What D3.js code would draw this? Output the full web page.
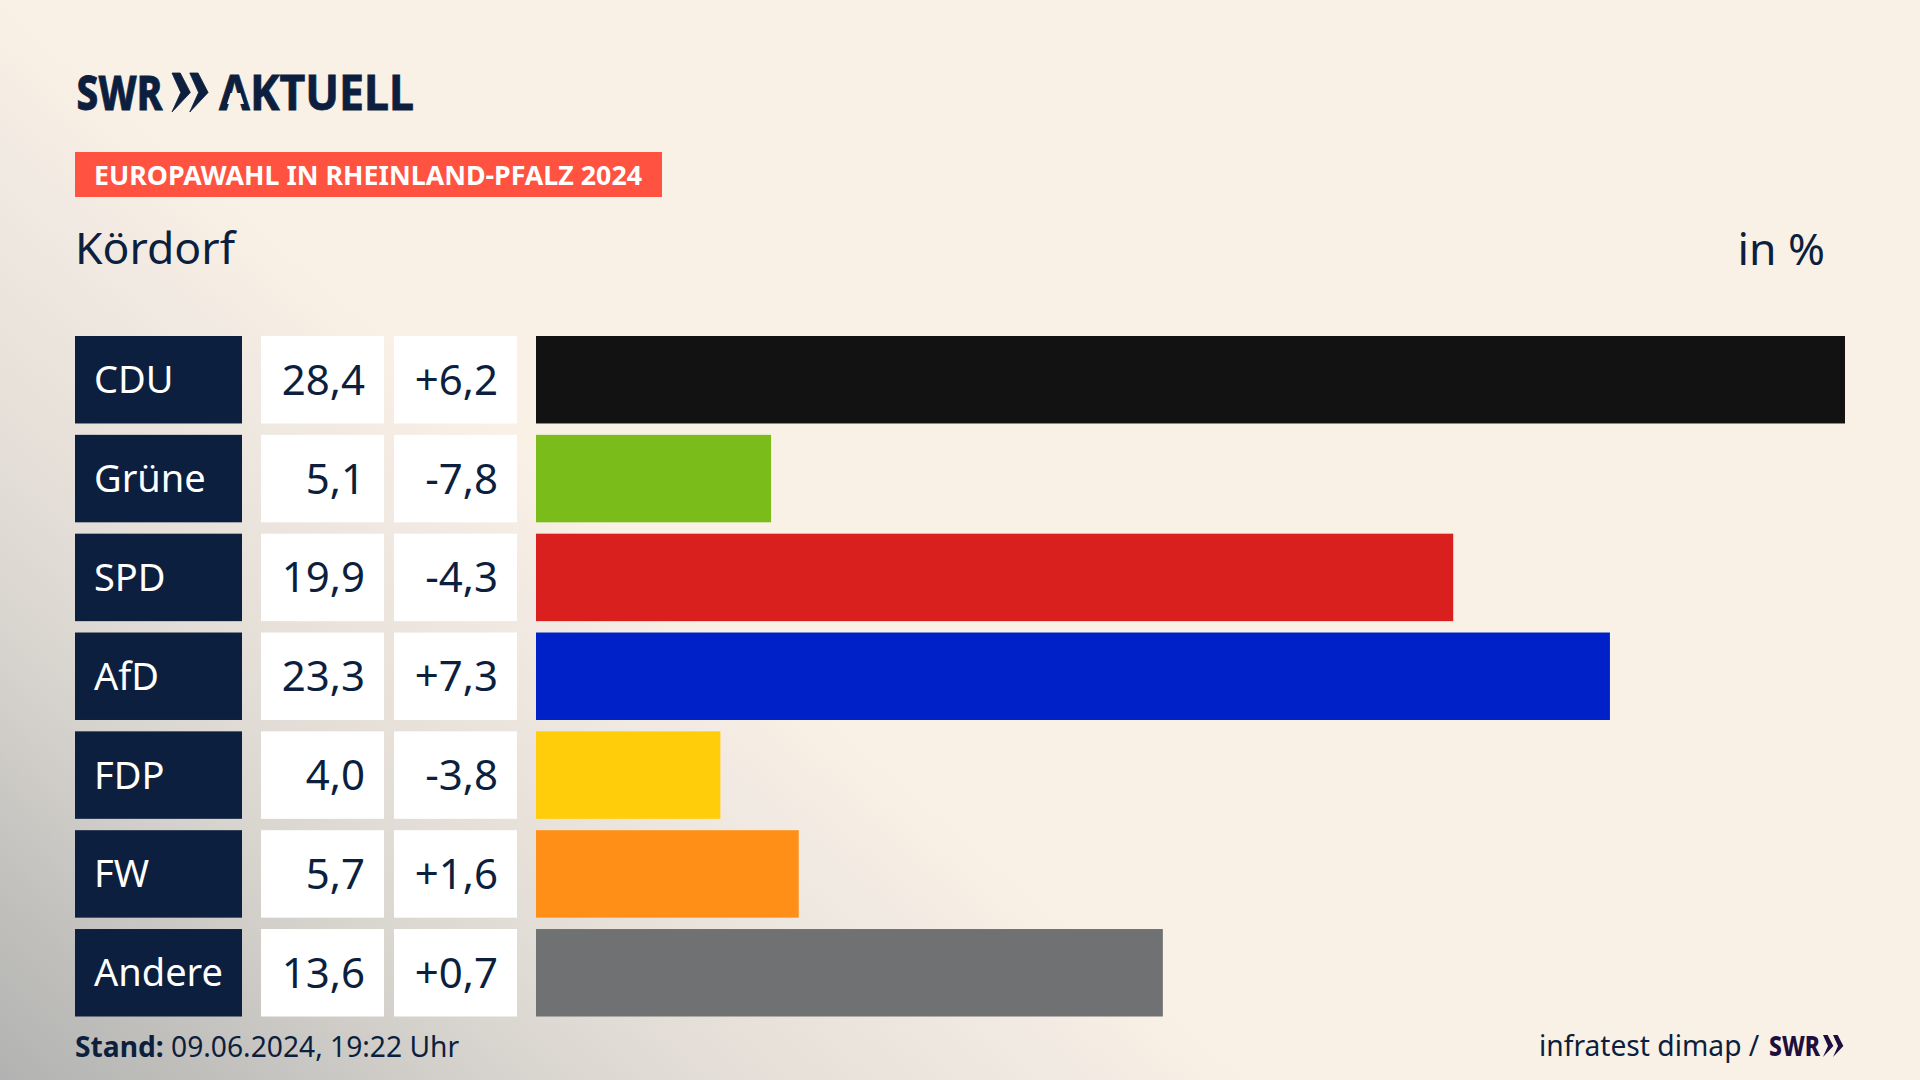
<!DOCTYPE html>
<html>
<head>
<meta charset="utf-8">
<script src="https://cdn.jsdelivr.net/npm/d3@7"></script>
<style>
  html, body { margin: 0; padding: 0; background: #faf1e6; }
  svg { display: block; }
  text { font-family: "Noto Sans", sans-serif; fill: #0c1f3e; }
</style>
</head>
<body>
<div id="chart"></div>
<script>
var svgWidth = 1920;
var svgHeight = 1080;

// Values
var parties = ["CDU", "Grüne", "SPD", "AfD", "FDP", "FW", "Andere"];
var shares = [28.4, 5.1, 19.9, 23.3, 4.0, 5.7, 13.6];
var changes = [6.2, -7.8, -4.3, 7.3, -3.8, 1.6, 0.7];
var barColors = ["#121212", "#7abd1a", "#d9201f", "#0020c8", "#ffcd0a", "#ff8f17", "#707173"];

var navy = "#0c1f3e";

var svg = d3
  .select("#chart")
  .append("svg")
  .attr("width", svgWidth)
  .attr("height", svgHeight);

var defs = svg.append("defs");

// grey haze running diagonally into the lower left corner
var haze = defs
  .append("linearGradient")
  .attr("id", "haze")
  .attr("gradientUnits", "userSpaceOnUse")
  .attr("x1", 0)
  .attr("y1", 0)
  .attr("x2", -534)
  .attr("y2", 619);
[
  [0, "#faf1e6"],
  [0.04, "#f7eee4"],
  [0.19, "#efe8e1"],
  [0.37, "#e6e0d9"],
  [0.5, "#dedad3"],
  [0.65, "#d2cfca"],
  [0.74, "#c9c7c3"],
  [0.83, "#c0bfbc"],
  [0.93, "#b8b8b6"],
  [1, "#b2b2b2"],
].forEach(function (s) {
  haze.append("stop").attr("offset", s[0]).attr("stop-color", s[1]);
});

svg.append("rect").attr("width", svgWidth).attr("height", svgHeight).attr("fill", "url(#haze)");

// scales
var yScale = d3.scaleBand().domain(parties).range([336, 1016.5]).paddingInner(0.115);
var xScale = d3.scaleLinear().domain([0, d3.max(shares)]).range([536, 1845]);

function formatNumber(v) {
  return v.toFixed(1).replace(".", ",");
}
function formatChange(v) {
  return (v > 0 ? "+" : "-") + formatNumber(Math.abs(v));
}

// the double chevron of the SWR logo
function chevrons(g, x, top, h, color) {
  var w = h * 0.47;
  [0, w * 0.97].forEach(function (dx) {
    var x0 = x + dx;
    g.append("path")
      .attr("fill", color)
      .attr(
        "d",
        `M${x0},${top} L${x0 + w * 0.45},${top} L${x0 + w},${top + h / 2} L${x0},${top + h} L${x0 + w * 0.48},${top + h / 2} Z`
      );
  });
}

// logo
var logo = svg.append("g").style("stroke", navy).style("stroke-width", 0.8);
logo
  .append("text")
  .attr("x", 76.5)
  .attr("y", 109.5)
  .attr("font-size", 48)
  .attr("font-weight", 800)
  .attr("textLength", 86)
  .attr("lengthAdjust", "spacingAndGlyphs")
  .text("SWR");
chevrons(logo, 172, 73, 39, navy);
logo
  .append("text")
  .attr("x", 219)
  .attr("y", 109.5)
  .attr("font-size", 48)
  .attr("font-weight", 700)
  .attr("textLength", 195)
  .attr("lengthAdjust", "spacingAndGlyphs")
  .text("AKTUELL");
// the logo's A has no crossbar
svg
  .append("path")
  .attr("fill", "#f8efe5")
  .attr("d", "M230.5,93 L240.5,93 L244,104 L227,104 Z");

// red label
svg.append("rect").attr("x", 75).attr("y", 152).attr("width", 587).attr("height", 45).attr("fill", "#ff5240");
svg
  .append("text")
  .attr("x", 94)
  .attr("y", 185)
  .attr("font-size", 27)
  .attr("font-weight", 700)
  .attr("textLength", 548)
  .attr("lengthAdjust", "spacingAndGlyphs")
  .style("fill", "#fff")
  .text("EUROPAWAHL IN RHEINLAND-PFALZ 2024");

// title and unit
svg.append("text").attr("x", 75).attr("y", 264).attr("font-size", 44.5).text("Kördorf");
svg.append("text").attr("x", 1825).attr("y", 265).attr("font-size", 44.5).attr("text-anchor", "end").text("in %");

// rows
var rows = svg
  .selectAll("g.row")
  .data(parties)
  .enter()
  .append("g")
  .attr("class", "row")
  .attr("transform", (d) => `translate(0, ${yScale(d)})`);

var band = yScale.bandwidth();

rows.append("rect").attr("x", 75).attr("width", 167).attr("height", band).attr("fill", navy);
rows.append("rect").attr("x", 261).attr("width", 123).attr("height", band).attr("fill", "#fff");
rows.append("rect").attr("x", 394).attr("width", 123).attr("height", band).attr("fill", "#fff");

rows
  .append("rect")
  .attr("x", xScale(0))
  .attr("width", (d, i) => xScale(shares[i]) - xScale(0))
  .attr("height", band)
  .attr("fill", (d, i) => barColors[i]);

rows
  .append("text")
  .attr("x", 94)
  .attr("y", band / 2 + 13.5)
  .attr("font-size", 38)
  .style("fill", "#fff")
  .text((d) => d);

rows
  .append("text")
  .attr("x", 365)
  .attr("y", band / 2 + 15)
  .attr("font-size", 42)
  .attr("text-anchor", "end")
  .text((d, i) => formatNumber(shares[i]));

rows
  .append("text")
  .attr("x", 498)
  .attr("y", band / 2 + 15)
  .attr("font-size", 42)
  .attr("text-anchor", "end")
  .text((d, i) => formatChange(changes[i]));

// footer
var stand = svg.append("text").attr("x", 75).attr("y", 1057).attr("font-size", 28.2);
stand.append("tspan").attr("font-weight", 700).text("Stand:");
stand.append("tspan").text(" 09.06.2024, 19:22 Uhr");

svg.append("text").attr("x", 1539).attr("y", 1056).attr("font-size", 28.2).text("infratest dimap /");
svg
  .append("text")
  .attr("x", 1769)
  .attr("y", 1056)
  .attr("font-size", 28)
  .attr("font-weight", 800)
  .attr("textLength", 51)
  .attr("lengthAdjust", "spacingAndGlyphs")
  .style("fill", "#1f0f3f")
  .text("SWR");
chevrons(svg.append("g"), 1823, 1035, 22, "#1f0f3f");
</script>
</body>
</html>
